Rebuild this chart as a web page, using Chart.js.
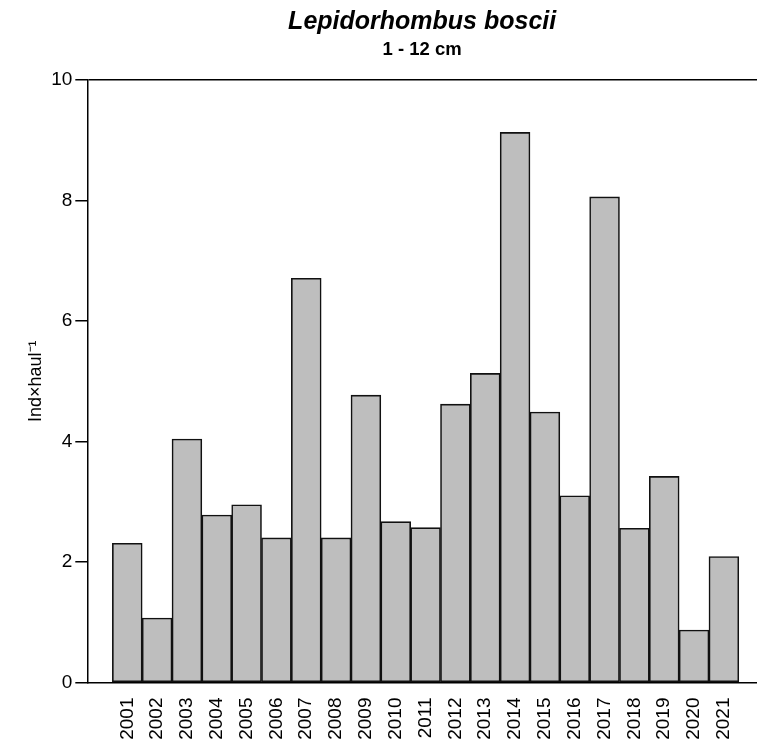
<!DOCTYPE html>
<html>
<head>
<meta charset="utf-8">
<title>Lepidorhombus boscii 1 - 12 cm</title>
<script src="https://cdn.jsdelivr.net/npm/chart.js@4.4.1/dist/chart.umd.min.js"></script>
<style>
  html, body { margin: 0; padding: 0; background: #fff; overflow: hidden; }
  #wrap { width: 757px; height: 749px; }
</style>
</head>
<body>
<div id="wrap"><canvas id="abundance" width="757" height="749"></canvas></div>
<script>
'use strict';

/* ---- survey index, 1-12 cm ---- */
const YEARS = ['2001','2002','2003','2004','2005','2006','2007','2008','2009','2010','2011',
               '2012','2013','2014','2015','2016','2017','2018','2019','2020','2021'];
const IND_PER_HAUL = [2.31, 1.07, 4.04, 2.78, 2.95, 2.40, 6.71, 2.40, 4.77, 2.67, 2.57,
                      4.62, 5.13, 9.13, 4.49, 3.10, 8.06, 2.56, 3.42, 0.87, 2.09];
const Y_TICKS = [0, 2, 4, 6, 8, 10];

const FONT = "'Liberation Sans', Arial, sans-serif";

// bars sit on a linear x axis at i + 0.5 so the padding either side can be set freely
const points = IND_PER_HAUL.map((v, i) => ({ x: i + 0.5, y: v }));

new Chart(document.getElementById('abundance'), {
  type: 'bar',
  data: {
    datasets: [{
      data: points,
      backgroundColor: '#BEBEBE',
      borderColor: '#111',
      borderWidth: 1.6,
      borderSkipped: false,
      barPercentage: 1,
      categoryPercentage: 1
    }]
  },
  options: {
    responsive: false,
    animation: false,
    layout: { padding: 0 },
    plugins: {
      legend: { display: false },
      tooltip: { enabled: false },
      title: {
        display: true,
        fullSize: false,
        text: 'Lepidorhombus boscii',
        color: '#000',
        font: { family: FONT, size: 25, weight: 'bold', style: 'italic', lineHeight: 1.2 },
        padding: { top: 7.5, bottom: 0 }
      },
      subtitle: {
        display: true,
        fullSize: false,
        text: '1 - 12 cm',
        color: '#000',
        font: { family: FONT, size: 18.5, weight: 'bold', lineHeight: 1.2 },
        padding: { top: 1.4, bottom: 18.9 }
      }
    },
    scales: {
      x: {
        type: 'linear',
        offset: false,
        min: -0.84,
        max: 21.61,
        afterBuildTicks: scale => { scale.ticks = YEARS.map((_, i) => ({ value: i + 0.5 })); },
        afterFit: scale => {
          scale.height = 66.5;
          // plot runs right up to the canvas edge
          scale.paddingLeft = 0;
          scale.paddingRight = 0;
        },
        ticks: {
          autoSkip: false,
          minRotation: 90,
          maxRotation: 90,
          padding: 15,
          color: '#000',
          font: { family: FONT, size: 19 },
          callback: (v, i) => YEARS[i]
        },
        grid: { color: 'rgba(0,0,0,0)', drawTicks: false },
        border: { display: true, color: '#000', width: 1.5 }
      },
      y: {
        min: 0,
        max: 10,
        afterBuildTicks: scale => { scale.ticks = Y_TICKS.map(v => ({ value: v })); },
        afterFit: scale => { scale.width = 87.3; },
        ticks: {
          padding: 3,
          color: '#000',
          font: { family: FONT, size: 19 }
        },
        grid: {
          drawOnChartArea: true,
          // only the top value gets a line across the plot
          color: ctx => (ctx.tick && ctx.tick.value === 10 ? '#000' : 'rgba(0,0,0,0)'),
          lineWidth: 1.5,
          tickLength: 12,
          tickColor: '#000',
          tickWidth: 1.5
        },
        border: { display: true, color: '#000', width: 1.5 },
        title: {
          display: true,
          text: 'Ind×haul⁻¹',
          color: '#000',
          font: { family: FONT, size: 18 },
          padding: { top: 25.5, bottom: 0 }
        }
      }
    }
  }
});
</script>
</body>
</html>
